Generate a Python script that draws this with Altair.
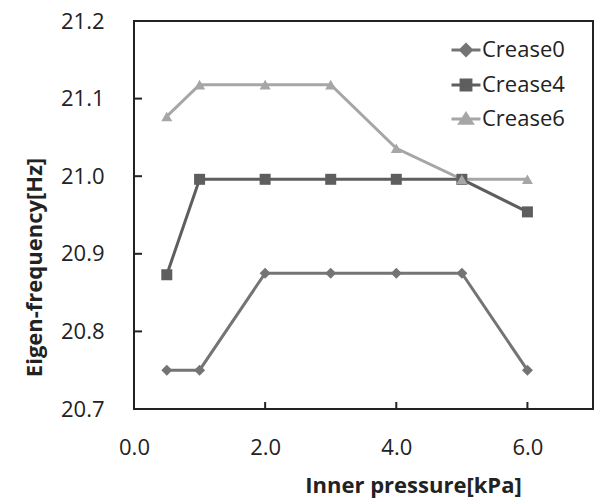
import altair as alt
import pandas as pd

pressure = [0.5, 1.0, 2.0, 3.0, 4.0, 5.0, 6.0]
crease0 = [20.75, 20.75, 20.875, 20.875, 20.875, 20.875, 20.75]
crease4 = [20.873, 20.996, 20.996, 20.996, 20.996, 20.996, 20.954]
crease6 = [21.077, 21.118, 21.118, 21.118, 21.036, 20.996, 20.996]
series_names = ["Crease0", "Crease4", "Crease6"]
series_colors = ["#747474", "#5e5e5e", "#a6a6a6"]
series_shapes = ["diamond", "square", "triangle-up"]
y_ticks = [20.7, 20.8, 20.9, 21.0, 21.1, 21.2]
x_ticks = [0.0, 2.0, 4.0, 6.0]
y_inner = [20.8, 20.9, 21.0, 21.1]
x_inner = [2.0, 4.0, 6.0]

rows = []
for name, vals in zip(series_names, [crease0, crease4, crease6]):
    for p, v in zip(pressure, vals):
        rows.append({"pressure": p, "freq": v, "series": name})
df = pd.DataFrame(rows)

FONT = "Open Sans"
W, H = 459, 388

xscale = alt.Scale(domain=[0, 7], nice=False, zero=False)
yscale = alt.Scale(domain=[20.7, 21.2], nice=False, zero=False)
cscale = alt.Scale(domain=series_names, range=series_colors)

sym_expr = (
    "datum.value === 'Crease0' ? 'M-1,0L1,0M0,-0.37L0.37,0L0,0.37L-0.37,0Z' : "
    "datum.value === 'Crease4' ? 'M-1,0L1,0M-0.34,-0.34L0.34,-0.34L0.34,0.34L-0.34,0.34Z' : "
    "'M-1,0L1,0M0,-0.36L0.42,0.3L-0.42,0.3Z'"
)
fill_expr = "scale('color', datum.value)"

x_axis = alt.Axis(
    values=x_ticks, format=".1f", grid=False, domain=False, ticks=False,
    labelFont=FONT, labelFontSize=22, labelColor="#222", labelPadding=28,
    labelFlush=False, labelOverlap=False,
    title="Inner pressure[kPa]", titleFont=FONT, titleFontSize=22,
    titleFontWeight="bold", titleColor="#222", titleX=279, titleY=76,
    titleBaseline="middle", titleAnchor="middle",
)
y_axis = alt.Axis(
    values=y_ticks, format=".1f", grid=False, domain=False, ticks=False,
    labelFont=FONT, labelFontSize=22, labelColor="#222", labelPadding=30,
    labelFlush=False, labelOverlap=False,
    title="Eigen-frequency[Hz]", titleFont=FONT, titleFontSize=22,
    titleFontWeight="bold", titleColor="#222", titleX=-100, titleY=246,
    titleBaseline="middle", titleAnchor="middle",
)

base = alt.Chart(df)

lines = base.mark_line(strokeWidth=3).encode(
    x=alt.X("pressure:Q", scale=xscale, axis=x_axis),
    y=alt.Y("freq:Q", scale=yscale, axis=y_axis),
    color=alt.Color(
        "series:N", scale=cscale,
        legend=alt.Legend(
            orient="none", legendX=316, legendY=13, title=None,
            symbolSize=841, symbolStrokeWidth=3, padding=0,
            rowPadding=7, labelOffset=0, labelFont=FONT, labelFontSize=22,
            labelColor="#222",
            symbolType={"expr": sym_expr},
            symbolFillColor={"expr": fill_expr},
            symbolOpacity=1,
        ),
    ),
    detail="series:N",
)

points = base.transform_calculate(
    marker="'m_' + datum.series"
).mark_point(filled=True, size=121, opacity=1).encode(
    x=alt.X("pressure:Q", scale=xscale),
    y=alt.Y("freq:Q", scale=yscale),
    color=alt.Color("series:N", scale=cscale, legend=None),
    shape=alt.Shape(
        "marker:N",
        scale=alt.Scale(domain=["m_" + s for s in series_names], range=series_shapes),
        legend=None,
    ),
)

ytick_df = pd.DataFrame({"v": y_inner})
xtick_df = pd.DataFrame({"p": x_inner})

yticks = alt.Chart(ytick_df).mark_rule(color="#222", strokeWidth=2).encode(
    y=alt.Y("v:Q", scale=yscale), x=alt.value(0), x2=alt.value(8)
)
xticks = alt.Chart(xtick_df).mark_rule(color="#222", strokeWidth=2).encode(
    x=alt.X("p:Q", scale=xscale), y=alt.value(H), y2=alt.value(H - 7)
)

chart = alt.layer(yticks, xticks, lines, points).properties(
    width=W, height=H,
    autosize=alt.AutoSizeParams(type="none"),
    padding={"left": 134, "top": 21, "right": 5, "bottom": 89},
    background="white",
).configure_view(stroke="#222", strokeWidth=2)

chart.save("out.html", embed_options={"renderer": "svg", "actions": False})
